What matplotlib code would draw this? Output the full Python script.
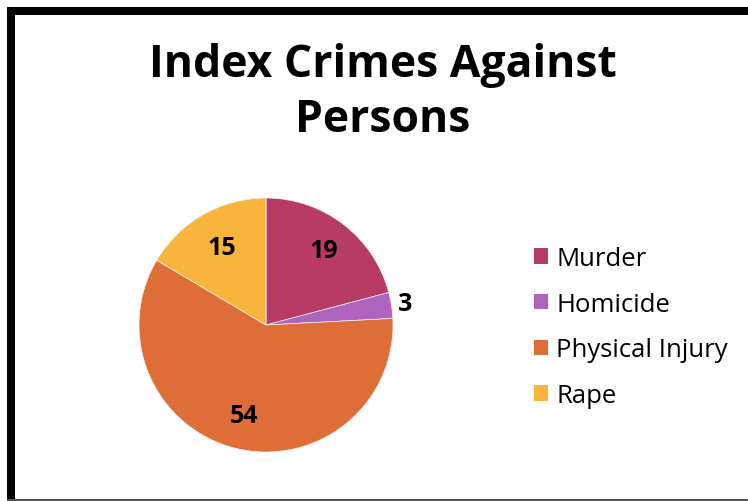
import numpy as np
import matplotlib.pyplot as plt
from matplotlib.patches import Rectangle

# Chart data
categories = ['Murder', 'Homicide', 'Physical Injury', 'Rape']
counts = [19, 3, 54, 15]
colors = ['#B83B66', '#AC64BC', '#DF6D37', '#F8B43B']
label_radius = [0.74, 1.11, 0.73, 0.70]

W, H = 748, 502
fig = plt.figure(figsize=(W / 100, H / 100), dpi=100)
fig.patch.set_facecolor('white')

# frame around the chart (thick left/top, thin bottom)
fig.patches.append(Rectangle((7 / W, 0), 8 / W, 1 - 8 / H, transform=fig.transFigure,
                             facecolor='black', edgecolor='none'))
fig.patches.append(Rectangle((7 / W, 1 - 16 / H), 1, 8 / H, transform=fig.transFigure,
                             facecolor='black', edgecolor='none'))
fig.patches.append(Rectangle((7 / W, 0.5 / H), 1, 2 / H, transform=fig.transFigure,
                             facecolor='#555555', edgecolor='none'))

fig.text(383 / W, 1 - 93 / H, 'Index Crimes Against\nPersons', ha='center', va='center',
         fontsize=32, fontweight='bold', family='Open Sans', linespacing=1.3)

# pie
cx, cy, r = 266, 326, 127
ax = fig.add_axes([(cx - r) / W, (H - cy - r) / H, 2 * r / W, 2 * r / H])
wedges, _ = ax.pie(counts, colors=colors, startangle=90, counterclock=False,
                   radius=1, wedgeprops=dict(linewidth=0.5, edgecolor='#f4f4f4'))
ax.set_xlim(-1, 1)
ax.set_ylim(-1, 1)
ax.set_aspect('equal')
ax.axis('off')

for w, v, rr in zip(wedges, counts, label_radius):
    ang = np.deg2rad((w.theta1 + w.theta2) / 2)
    ax.text(rr * np.cos(ang), rr * np.sin(ang), str(v), ha='center', va='center',
            fontsize=18, fontweight='bold', family='Open Sans', clip_on=False)

# legend
leg = fig.legend(wedges, categories, loc='upper left', bbox_to_anchor=(524 / W, 1 - 237 / H),
                 frameon=False, prop={'family': 'Open Sans', 'size': 18.5},
                 handlelength=0.55, handleheight=0.55, handletextpad=0.3,
                 labelspacing=0.8, borderaxespad=0)
for h in leg.legend_handles:
    h.set_edgecolor('none')

fig.savefig('out.png', dpi=100)
